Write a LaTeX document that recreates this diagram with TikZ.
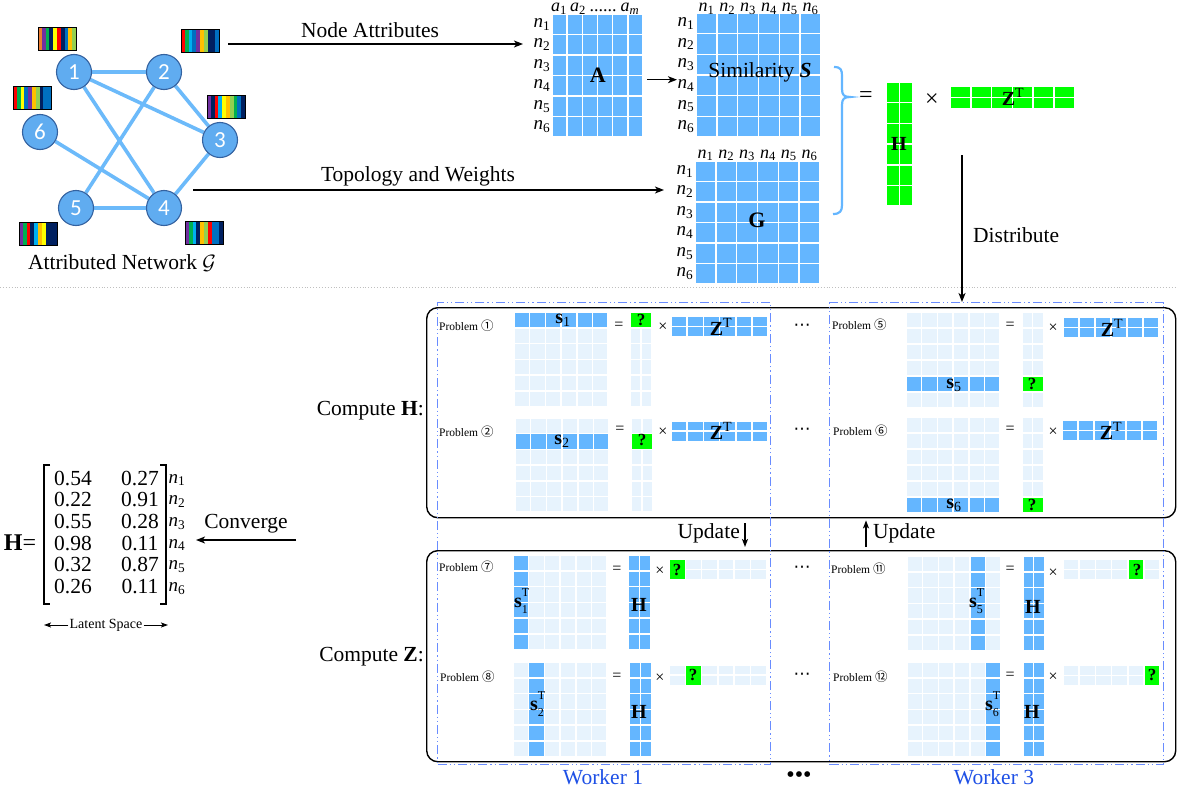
\documentclass[tikz,border=0pt]{standalone}
\usepackage{fontspec}
\setmainfont{Liberation Serif}
\newfontfamily\digitfont{Carlito}
\newfontfamily\circfont{Noto Sans CJK SC}
\newfontfamily\dotsfont{DejaVu Sans}
\usetikzlibrary{arrows.meta,calc}
\pgfdeclarelayer{background}
\pgfsetlayers{background,main}

\definecolor{cellhi}{RGB}{100,182,255}
\definecolor{celllo}{RGB}{231,243,253}
\definecolor{cellgr}{RGB}{0,255,0}
\definecolor{edgeblue}{RGB}{108,186,250}
\definecolor{vfill}{RGB}{96,172,240}
\definecolor{vline}{RGB}{52,98,160}
\definecolor{wline}{RGB}{105,140,255}
\definecolor{wtext}{RGB}{30,80,230}
\definecolor{braceblue}{RGB}{100,182,255}
% stripe colours of the attribute bars
\definecolor{kor}{RGB}{237,125,49}
\definecolor{kpu}{RGB}{112,48,160}
\definecolor{kgr}{RGB}{0,176,80}
\definecolor{kye}{RGB}{255,255,0}
\definecolor{kre}{RGB}{255,0,0}
\definecolor{knv}{RGB}{0,32,96}
\definecolor{kbl}{RGB}{0,112,192}
\definecolor{kgo}{RGB}{255,192,0}
\definecolor{klg}{RGB}{146,208,80}
\definecolor{kcy}{RGB}{0,176,240}

% grid of cells: x0, y0, cell width, cell height, columns, rows, colour
\newcommand\cellgrid[7]{%
  \foreach \ci in {1,...,#5}{\foreach \cj in {1,...,#6}{%
    \fill[#7] ({#1+(\ci-1)*#3+0.75},{#2+(\cj-1)*#4+0.75}) rectangle ({#1+\ci*#3-0.75},{#2+\cj*#4-0.75});}}}

% attribute bar: name, x0, y0, ten stripe colours
\newcommand\attrbar[4]{%
  \foreach \scol [count=\sk] in {#4}{\fill[\scol] ({#2+(\sk-1)*3.8},#3) rectangle ({#2+\sk*3.8},{#3+23});}%
  \node[draw, line width=0.8pt, inner sep=0pt, minimum width=38pt, minimum height=23pt, anchor=north west] (#1) at (#2,#3) {};}

\newcommand\circnum[1]{{\circfont\fontsize{12.5}{13}\selectfont #1}}
% symbols set as text
\newcommand\nsub[1]{\textit{n}\textsubscript{#1}}
\newcommand\asub[1]{\textit{a}\textsubscript{#1}}
\newcommand\vecs[1]{\textbf{s}\textsubscript{#1}}
\newcommand\vecst[1]{\textbf{s}\makebox[0pt][l]{\raisebox{0.55em}{\fontsize{12}{12}\selectfont T}}\raisebox{-0.28em}{\fontsize{12}{12}\selectfont #1}}
\newcommand\zt{\textbf{Z}\textsuperscript{T}}
\newcommand\hdots{{\dotsfont ⋯}}

\begin{document}
\begin{tikzpicture}[x=1pt,y=-1pt,
  lbl/.style={inner sep=1pt, font=\fontsize{21.5}{24}\selectfont},
  mlbl/.style={inner sep=0.5pt, font=\fontsize{19}{20}\selectfont},
  hlbl/.style={inner sep=0pt, anchor=base, font=\fontsize{18}{20}\selectfont},
  blbl/.style={inner sep=0pt, font=\bfseries\fontsize{22}{24}\selectfont},
  slbl/.style={inner sep=0pt, font=\fontsize{20}{21}\selectfont},
  plbl/.style={inner sep=0pt, font=\fontsize{11.5}{13}\selectfont, anchor=west},
  qlbl/.style={inner sep=0pt, font=\bfseries\fontsize{17}{18}\selectfont},
  oplbl/.style={inner sep=0pt, font=\fontsize{24}{24}\selectfont},
  opsmall/.style={inner sep=0pt, font=\fontsize{16}{16}\selectfont},
  dotlbl/.style={inner sep=0pt, font=\fontsize{17}{17}\selectfont},
  vtx/.style={circle, fill=vfill, draw=vline, line width=1.1pt, minimum size=35pt, inner sep=0pt, text=white, font=\digitfont\fontsize{23}{23}\selectfont},
  netedge/.style={draw=edgeblue, line width=3.6pt},
  arr/.style={line width=1.5pt, -{Stealth[length=9pt,width=7pt,inset=2.5pt]}},
  uarr/.style={line width=1.5pt, -{Stealth[length=8pt,width=6pt,inset=2pt]}},
  thinarr/.style={line width=0.9pt, -{Stealth[length=7pt,width=5pt,inset=1.5pt]}},
  phase/.style={draw, line width=1.4pt, rounded corners=11pt, inner sep=0pt, anchor=north west},
  worker/.style={draw=wline, line width=1.2pt, dash pattern=on 9pt off 3pt on 1.2pt off 3pt on 1.2pt off 3pt, inner sep=0pt, anchor=north west},
  bracket/.style={line width=1.6pt}
]
\begin{pgfonlayer}{background}
\fill[white] (0,0) rectangle (1177,792);
\end{pgfonlayer}
\useasboundingbox (0,0) rectangle (1177,792);

% ---------------- attributed network ----------------
\node[vtx] (v1) at (74,72) {1};
\node[vtx] (v2) at (164,72) {2};
\node[vtx] (v3) at (220,140) {3};
\node[vtx] (v4) at (164,208) {4};
\node[vtx] (v5) at (76,208) {5};
\node[vtx] (v6) at (40,132) {6};
\begin{pgfonlayer}{background}
\draw[netedge] (v1)--(v2) (v1)--(v3) (v1)--(v4) (v2)--(v3) (v2)--(v5)
  (v3)--(v4) (v4)--(v5) (v6)--(v4);
\end{pgfonlayer}

\attrbar{bar1}{38}{27}{kor,kpu,kgr,knv,kye,kre,knv,kbl,kgo,klg}
\attrbar{bar2}{181}{29}{kre,kgr,kcy,kbl,kpu,kgo,klg,knv,knv,kbl}
\attrbar{bar3}{207}{95}{kpu,knv,kre,kcy,kye,kgo,klg,kgr,kbl,knv}
\attrbar{bar6}{13}{86}{kre,kgr,kye,kbl,kpu,kgo,klg,knv,kbl,kbl}
\attrbar{bar5}{19}{222}{kpu,kgr,kre,knv,kcy,kgo,kye,knv,knv,knv}
\attrbar{bar4}{185}{221}{kpu,kgr,kcy,knv,kgo,klg,kre,kbl,kbl,knv}

\node[lbl] (netlab) at (122,263) {Attributed Network $\mathcal{G}$};

% ---------------- attribute matrix A ----------------
\node[inner sep=0pt, minimum width=91pt, minimum height=123pt, anchor=north west] (Amat) at (552,14) {};
\cellgrid{552}{14}{15.17}{20.5}{6}{6}{cellhi}
\node[blbl] (Alab) at (Amat.center) {A};
\foreach \r in {1,...,6}{\node[mlbl, anchor=east] (An\r) at (551,{14+(\r-0.5)*20.5}) {\nsub{\r}};}
\node[hlbl] (Ah1) at (559,12) {\asub{1}};
\node[hlbl] (Ah2) at (578,12) {\asub{2}};
\node[hlbl] (Ahd) at (603,12) {......};
\node[hlbl] (Ahm) at (630,12) {\asub{\textit{m}}};

% ---------------- similarity matrix S ----------------
\node[inner sep=0pt, minimum width=125pt, minimum height=124pt, anchor=north west] (Smat) at (696,13) {};
\cellgrid{696}{13}{20.83}{20.67}{6}{6}{cellhi}
\foreach \r in {1,...,6}{\node[mlbl, anchor=east] (Sn\r) at (695,{13+(\r-0.5)*20.67}) {\nsub{\r}};}
\foreach \c in {1,...,6}{\node[hlbl] (Sh\c) at ({696+(\c-0.5)*20.83},12) {\nsub{\c}};}
\node[lbl] (Slab) at (760,72) {Similarity \textbf{\textit{S}}};

% ---------------- topology matrix G ----------------
\node[inner sep=0pt, minimum width=125pt, minimum height=123pt, anchor=north west] (Gmat) at (695,161) {};
\cellgrid{695}{161}{20.83}{20.5}{6}{6}{cellhi}
\foreach \r in {1,...,6}{\node[mlbl, anchor=east] (Gn\r) at (694,{161+(\r-0.5)*20.5}) {\nsub{\r}};}
\foreach \c in {1,...,6}{\node[hlbl] (Gh\c) at ({695+(\c-0.5)*20.83},158) {\nsub{\c}};}
\node[blbl] (Glab) at (757,220) {G};

% ---------------- arrows of the upper part ----------------
\coordinate (attrStart) at (228,44);
\draw[arr] (attrStart) -- ([xshift=-10pt]An2.west |- attrStart);
\node[lbl] (attrlab) at (370,30) {Node Attributes};
\coordinate (topoStart) at (193,190);
\draw[arr] (topoStart) -- ([xshift=-12pt]Gn2.west |- topoStart);
\node[lbl] (topolab) at (418,176) {Topology and Weights};
\coordinate (asStart) at ($(Amat.east)+(4,4)$);
\draw[arr] (asStart) -- (asStart -| Sn4.west);

% brace joining S and G
\draw[braceblue, line width=2.2pt] (834,67) .. controls (841,67) and (842,70) .. (842,76)
  -- (842,89) .. controls (842,95) and (844,97) .. (850,97)
  .. controls (844,97) and (842,99) .. (842,105)
  -- (842,205) .. controls (842,211) and (840,214) .. (833,214);

% ---------------- factorisation H x Z^T ----------------
\node[oplbl] (topeq) at (866,97) {=};
\node[inner sep=0pt, minimum width=27pt, minimum height=124pt, anchor=north west] (Htop) at (886,82) {};
\cellgrid{886}{82}{13.5}{20.7}{2}{6}{cellgr}
\node[slbl, font=\bfseries\fontsize{20}{21}\selectfont] (Htoplab) at (899,144) {H};
\node[oplbl] (toptimes) at (932,100) {×};
\cellgrid{950}{86}{20.8}{11.6}{6}{2}{cellgr}
\node[slbl] (Ztoplab) at (1013,97) {\zt};

% separator
\draw[black!25, dotted, line width=0.9pt] (0,287) -- (1177,287);

% ---------------- distributed solving ----------------
\node[phase, minimum width=749pt, minimum height=210pt] (hbox) at (426,307) {};
\node[phase, minimum width=749pt, minimum height=211pt] (zbox) at (426,550) {};
\node[worker, minimum width=333pt, minimum height=462pt] (w1) at (437,302) {};
\node[worker, minimum width=334pt, minimum height=462pt] (w3) at (829,302) {};
\node[lbl, text=wtext] (w1lab) at (603,777) {Worker 1};
\node[lbl, text=wtext] (w3lab) at (994,777) {Worker 3};
\node[inner sep=0pt, font=\fontsize{24}{24}\selectfont] (wdots) at (799,777) {•••};

\coordinate (distTop) at (962,155);
\draw[arr] (distTop) -- (distTop |- w3.north);
\node[lbl, anchor=west] (distlab) at (972,235) {Distribute};

\node[lbl, anchor=east] (chlab) at (425,411) {Compute \textbf{H}:};
\node[lbl, anchor=east] (czlab) at (425,657) {Compute \textbf{Z}:};

\coordinate (updA) at (745,0);
\coordinate (updB) at (866,0);
\draw[uarr, shorten <=5pt, shorten >=3pt] (hbox.south -| updA) -- (zbox.north -| updA);
\draw[uarr, shorten <=3pt, shorten >=2pt] (zbox.north -| updB) -- (hbox.south -| updB);
\node[lbl, anchor=east] (updlabA) at (741,533) {Update};
\node[lbl, anchor=west] (updlabB) at (872,533) {Update};

\node[dotlbl] (dots1) at (802,327) {\hdots};
\node[dotlbl] (dots2) at (802,431) {\hdots};
\node[dotlbl] (dots3) at (802,569) {\hdots};
\node[dotlbl] (dots4) at (802,676) {\hdots};

% Problem 1
\node[plbl] (pl1) at (439,326) {Problem \circnum{①}};
\cellgrid{514}{312}{15.7}{15.8}{6}{6}{celllo}
\cellgrid{514}{312}{15.7}{15.8}{6}{1}{cellhi}
\node[slbl] (sl1) at (563,320) {\vecs{1}};
\node[opsmall] (eq1) at (619,326) {=};
\cellgrid{630}{312}{11}{15.8}{2}{6}{celllo}
\cellgrid{630}{312}{22}{15.8}{1}{1}{cellgr}
\node[qlbl] (q1) at (641,320) {?};
\node[opsmall] (x1) at (663,327) {×};
\cellgrid{671}{316}{16.2}{10.5}{6}{2}{cellhi}
\node[slbl] (zl1) at (721,327) {\zt};

% Problem 2
\node[plbl] (pl2) at (439,432) {Problem \circnum{②}};
\cellgrid{515}{418}{15.7}{15.7}{6}{6}{celllo}
\cellgrid{515}{433.7}{15.7}{15.7}{6}{1}{cellhi}
\node[slbl] (sl2) at (562,441) {\vecs{2}};
\node[opsmall] (eq2) at (620,430) {=};
\cellgrid{631}{418}{11}{15.7}{2}{6}{celllo}
\cellgrid{631}{433.7}{22}{15.7}{1}{1}{cellgr}
\node[qlbl] (q2) at (642,440) {?};
\node[opsmall] (x2) at (663,432) {×};
\cellgrid{671}{421}{16.2}{10.2}{6}{2}{cellhi}
\node[slbl] (zl2) at (721,431) {\zt};

% Problem 5
\node[plbl] (pl5) at (832,325) {Problem \circnum{⑤}};
\cellgrid{906}{312}{15.7}{16}{6}{6}{celllo}
\cellgrid{906}{376}{15.7}{16}{6}{1}{cellhi}
\node[slbl] (sl5) at (954,385) {\vecs{5}};
\node[opsmall] (eq5) at (1010,326) {=};
\cellgrid{1022}{312}{10.7}{16}{2}{6}{celllo}
\cellgrid{1022}{376}{21.4}{16}{1}{1}{cellgr}
\node[qlbl] (q5) at (1032,384) {?};
\node[opsmall] (x5) at (1053,328) {×};
\cellgrid{1063}{317}{16}{10.5}{6}{2}{cellhi}
\node[slbl] (zl5) at (1112,328) {\zt};

% Problem 6
\node[plbl] (pl6) at (833,431) {Problem \circnum{⑥}};
\cellgrid{906}{417}{15.7}{16}{6}{6}{celllo}
\cellgrid{906}{497}{15.7}{16}{6}{1}{cellhi}
\node[slbl] (sl6) at (954,505) {\vecs{6}};
\node[opsmall] (eq6) at (1010,430) {=};
\cellgrid{1022}{417}{10.7}{16}{2}{6}{celllo}
\cellgrid{1022}{497}{21.4}{16}{1}{1}{cellgr}
\node[qlbl] (q6) at (1032,505) {?};
\node[opsmall] (x6) at (1053,432) {×};
\cellgrid{1062}{420}{16}{10.5}{6}{2}{cellhi}
\node[slbl] (zl6) at (1111,431) {\zt};

% Problem 7
\node[plbl] (pl7) at (439,567) {Problem \circnum{⑦}};
\cellgrid{513}{555}{15.7}{15.8}{6}{6}{celllo}
\cellgrid{513}{555}{15.7}{15.8}{1}{6}{cellhi}
\node[slbl] (sl7) at (521,601) {\vecst{1}};
\node[opsmall] (eq7) at (617,570) {=};
\cellgrid{628}{555}{11.5}{15.8}{2}{6}{cellhi}
\node[slbl, font=\bfseries\fontsize{20}{21}\selectfont] (hl7) at (639,605) {H};
\node[opsmall] (x7) at (660,571) {×};
\cellgrid{669}{559}{16.3}{10.5}{6}{2}{celllo}
\cellgrid{669}{559}{16.3}{21}{1}{1}{cellgr}
\node[qlbl] (q7) at (677,570) {?};

% Problem 8
\node[plbl] (pl8) at (440,677) {Problem \circnum{⑧}};
\cellgrid{513}{662}{15.7}{15.8}{6}{6}{celllo}
\cellgrid{528.7}{662}{15.7}{15.8}{1}{6}{cellhi}
\node[slbl] (sl8) at (537,704) {\vecst{2}};
\node[opsmall] (eq8) at (617,677) {=};
\cellgrid{629}{662}{11.5}{15.8}{2}{6}{cellhi}
\node[slbl, font=\bfseries\fontsize{20}{21}\selectfont] (hl8) at (639,712) {H};
\node[opsmall] (x8) at (660,678) {×};
\cellgrid{669}{665}{16.3}{10.2}{6}{2}{celllo}
\cellgrid{685.3}{665}{16.3}{20.4}{1}{1}{cellgr}
\node[qlbl] (q8) at (693,675) {?};

% Problem 11
\node[plbl] (pl11) at (831,569) {Problem \circnum{⑪}};
\cellgrid{907}{556}{15.7}{15.8}{6}{6}{celllo}
\cellgrid{969.8}{556}{15.7}{15.8}{1}{6}{cellhi}
\node[slbl] (sl11) at (976,601) {\vecst{5}};
\node[opsmall] (eq11) at (1010,570) {=};
\cellgrid{1023}{556}{10.7}{15.8}{2}{6}{cellhi}
\node[slbl, font=\bfseries\fontsize{20}{21}\selectfont] (hl11) at (1033,607) {H};
\node[opsmall] (x11) at (1053,573) {×};
\cellgrid{1063}{559}{16.2}{10.5}{6}{2}{celllo}
\cellgrid{1127.8}{559}{16.2}{21}{1}{1}{cellgr}
\node[qlbl] (q11) at (1137,570) {?};

% Problem 12
\node[plbl] (pl12) at (833,677) {Problem \circnum{⑫}};
\cellgrid{907}{662}{15.7}{15.8}{6}{6}{celllo}
\cellgrid{985.5}{662}{15.7}{15.8}{1}{6}{cellhi}
\node[slbl] (sl12) at (992,704) {\vecst{6}};
\node[opsmall] (eq12) at (1010,676) {=};
\cellgrid{1023}{662}{10.7}{15.8}{2}{6}{cellhi}
\node[slbl, font=\bfseries\fontsize{20}{21}\selectfont] (hl12) at (1032,712) {H};
\node[opsmall] (x12) at (1053,677) {×};
\cellgrid{1063}{665}{16.2}{10.3}{6}{2}{celllo}
\cellgrid{1144}{665}{16.2}{20.6}{1}{1}{cellgr}
\node[qlbl] (q12) at (1152,675) {?};

% ---------------- converged embedding ----------------
\node[inner sep=0pt, font=\fontsize{24}{24}\selectfont] (Heq) at (20,543) {\textbf{H}=};
\draw[bracket] (50,465) -- (44,465) -- (44,604) -- (50,604);
\draw[bracket] (160,465) -- (166,465) -- (166,604) -- (160,604);
\foreach \a/\b [count=\r] in {0.54/0.27,0.22/0.91,0.55/0.28,0.98/0.11,0.32/0.87,0.26/0.11}{
  \node[lbl, inner sep=0pt] (Hl\r) at (73,{478+(\r-1)*21.7}) {\a};
  \node[lbl, inner sep=0pt] (Hr\r) at (140,{478+(\r-1)*21.7}) {\b};
  \node[mlbl, anchor=west] (Hn\r) at (168,{480+(\r-1)*21.7}) {\nsub{\r}};
}
\coordinate (convStart) at (296,540);
\draw[arr, shorten >=10pt] (convStart) -- (convStart -| Hn3.east);
\node[lbl] (convlab) at (246,524) {Converge};

\node[inner sep=1pt, font=\fontsize{14}{15}\selectfont] (lat) at (106,625) {Latent Space};
\coordinate (latL) at (44,625);
\coordinate (latR) at (168,625);
\draw[thinarr] (lat.west) -- (latL);
\draw[thinarr] (lat.east) -- (latR);
\end{tikzpicture}
\end{document}
